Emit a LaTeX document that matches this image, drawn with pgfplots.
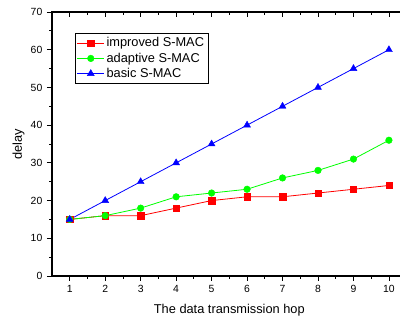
\documentclass[border=0pt]{standalone}
\usepackage{fontspec}
\setmainfont{Liberation Sans}
\usepackage{pgfplots}
\pgfplotsset{compat=1.18}
\begin{document}
\begin{tikzpicture}
\useasboundingbox (-39pt,-33pt) rectangle (261pt,207pt);
\clip (-39pt,-33pt) rectangle (261pt,207pt);
\begin{axis}[
  scale only axis, width=266pt, height=198pt,
  xmin=0.5, xmax=10.5, ymin=0, ymax=70,
  xtick={1,...,10}, ytick={0,10,...,70},
  minor x tick num=1, minor y tick num=1,
  tick align=outside, xtick pos=bottom, ytick pos=left,
  major tick length=3.75pt, minor tick length=2.2pt,
  axis line style={line width=0.9pt},
  every tick/.style={black, line width=0.6pt},
  /pgf/number format/assume math mode=true,
  tick label style={font=\fontsize{7.8}{9}\selectfont},
  label style={font=\fontsize{9.6}{11}\selectfont},
  xlabel={The data transmission hop}, ylabel={delay},
  x label style={at={(axis description cs:0.5,-0.131)}, anchor=center},
  y label style={at={(axis description cs:-0.094,0.5)}, anchor=center},
  legend style={at={(axis description cs:0.064,0.92)}, anchor=north west,
    font=\fontsize{9.6}{11}\selectfont, draw=black, line width=0.6pt,
    row sep=-0.3pt, inner sep=1.5pt, nodes={inner sep=1.6pt}},
  legend cell align=left,
  legend image code/.code={\draw[mark repeat=2,mark phase=2] plot coordinates {(0cm,0cm) (0.35cm,0cm) (0.7cm,0cm)};},
]
\addplot[red, line width=0.6pt, mark=square*, mark size=2.4pt, mark options={fill=red, draw=red, line width=0.3pt}] coordinates {
 (1,15) (2,16) (3,16) (4,18) (5,20) (6,21) (7,21) (8,22) (9,23) (10,24)};
\addlegendentry{improved S-MAC}
\addplot[green, line width=0.6pt, mark=*, mark size=2.5pt, mark options={fill=green, draw=green, line width=0.3pt}] coordinates {
 (1,15) (2,16) (3,18) (4,21) (5,22) (6,23) (7,26) (8,28) (9,31) (10,36)};
\addlegendentry{adaptive S-MAC}
\addplot[blue, line width=0.6pt, mark=triangle*, mark size=3pt, mark options={fill=blue, draw=blue, line width=0.3pt}] coordinates {
 (1,15) (2,20) (3,25) (4,30) (5,35) (6,40) (7,45) (8,50) (9,55) (10,60)};
\addlegendentry{basic S-MAC}
\end{axis}
\begin{axis}[
  scale only axis, width=266pt, height=198pt,
  xmin=0.5, xmax=10.5, ymin=0, ymax=70,
  axis x line*=top, axis y line=none,
  xtick={1,...,10}, minor x tick num=1, xticklabels={},
  tick align=inside,
  major tick length=3.75pt, minor tick length=2.2pt,
  axis line style={line width=0.9pt},
  every tick/.style={black, line width=0.6pt},
]
\end{axis}
\end{tikzpicture}
\end{document}
